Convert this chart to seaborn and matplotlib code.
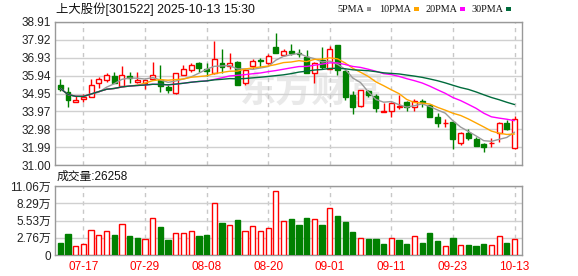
import numpy as np
import pandas as pd
import matplotlib
matplotlib.use("Agg")
import matplotlib.pyplot as plt
import seaborn as sns

# ---------------- data ----------------
opens = [35.42, 35.05, 34.46, 34.63, 34.74, 35.51, 35.71, 35.91, 35.38, 35.91,
         35.60, 35.55, 35.77, 35.69, 35.33, 35.00, 36.00, 36.24, 36.65, 36.28,
         36.10, 36.66, 36.46, 36.68, 35.51, 36.46, 36.80, 36.65, 37.53, 37.07,
         37.29, 37.16, 36.98, 36.11, 36.79, 36.33, 37.62, 36.21, 34.85, 34.26,
         35.09, 34.81, 33.95, 34.01, 34.23, 34.50, 34.19, 34.54, 34.32, 33.64,
         33.31, 33.36, 32.21, 32.76, 32.45, 32.17, 32.21, 32.76, 33.31, 31.93]
highs = [35.73, 35.33, 34.81, 34.92, 35.78, 35.84, 36.11, 36.13, 36.46, 36.13,
         36.13, 35.71, 36.68, 36.52, 35.42, 36.08, 36.52, 36.65, 36.70, 36.61,
         37.84, 37.40, 37.16, 36.72, 36.28, 36.88, 36.92, 37.12, 38.30, 37.38,
         37.67, 37.38, 37.34, 36.70, 37.49, 37.58, 37.65, 36.24, 35.11, 35.16,
         35.14, 34.92, 34.41, 34.50, 34.87, 34.56, 34.63, 34.63, 34.37, 33.86,
         33.53, 33.40, 32.85, 32.98, 32.54, 32.25, 32.48, 33.40, 33.49, 33.71]
lows = [35.11, 34.23, 34.46, 34.46, 34.74, 35.27, 35.60, 35.51, 35.38, 35.55,
        35.51, 35.23, 35.71, 35.05, 35.00, 34.92, 36.00, 36.15, 36.15, 35.91,
        36.02, 36.10, 36.28, 35.45, 35.42, 36.28, 36.39, 36.57, 37.16, 37.01,
        37.07, 36.98, 36.06, 35.55, 36.28, 36.33, 35.97, 34.59, 33.82, 34.19,
        34.74, 33.95, 33.91, 33.68, 34.08, 34.01, 34.01, 34.19, 33.64, 33.13,
        33.09, 31.88, 32.12, 32.39, 32.06, 31.71, 32.03, 32.30, 32.94, 31.88]
closes = [35.23, 34.57, 34.60, 34.78, 35.45, 35.73, 35.95, 35.55, 36.00, 35.80,
          35.69, 35.71, 35.95, 35.36, 35.14, 36.06, 36.28, 36.52, 36.37, 36.21,
          36.88, 36.39, 36.61, 35.45, 36.24, 36.74, 36.76, 37.01, 37.21, 37.29,
          37.20, 37.12, 36.10, 36.66, 36.39, 37.43, 36.24, 34.74, 34.23, 35.14,
          34.89, 34.13, 33.99, 34.41, 34.26, 34.23, 34.54, 34.48, 33.68, 33.31,
          33.35, 32.43, 32.76, 32.48, 32.08, 32.03, 32.25, 33.31, 33.00, 33.53]
volumes_wan = [1.98, 3.37, 1.39, 1.76, 4.00, 3.15, 3.79, 3.20, 4.91, 3.04,
               2.72, 2.51, 5.87, 4.49, 2.40, 3.47, 3.47, 3.79, 3.04, 3.20,
               8.28, 5.13, 4.75, 5.61, 3.79, 4.59, 3.79, 4.33, 10.25, 5.39,
               5.77, 4.81, 5.93, 5.71, 4.81, 7.48, 6.25, 5.29, 3.68, 2.67,
               2.56, 2.56, 1.76, 2.67, 2.40, 1.76, 2.99, 1.98, 3.58, 2.24,
               1.39, 2.72, 1.55, 1.60, 1.44, 1.76, 1.55, 2.99, 1.98, 2.6258]
date_ticks = ["07-17", "07-29", "08-08", "08-20", "09-01", "09-11", "09-23", "10-13"]
price_ticks = [31.00, 31.99, 32.98, 33.97, 34.95, 35.94, 36.93, 37.92, 38.91]
vol_ticks = [0, 27650, 55300, 82950, 110600]
vol_tick_labels = ["0", "2.76万", "5.53万", "8.29万", "11.06万"]
ma_windows = [5, 10, 20, 30]
ma_names = ["5PMA", "10PMA", "20PMA", "30PMA"]
title = "上大股份[301522] 2025-10-13 15:30"
last_volume = 26258

# ---------------- style ----------------
sns.set_theme(style="white")
plt.rcParams["font.family"] = ["Liberation Sans", "Noto Sans CJK SC", "DejaVu Sans"]

RED = "#ff0000"
GREEN = "#008000"
ma_colors = ["#9a9a9a", "#ffa500", "#ff00ff", "#006b3c"]

df = pd.DataFrame({"open": opens, "high": highs, "low": lows,
                   "close": closes, "vol": np.array(volumes_wan) * 10000})
df["idx"] = np.arange(len(df))
prev = df["close"].shift(1)
cand_up = (df["close"] > df["open"]) | ((df["close"] == df["open"]) & (df["close"] >= prev.fillna(df["open"])))
vol_up = df["close"] >= prev.fillna(df["open"])

W, H = 578, 276
fig = plt.figure(figsize=(W / 100, H / 100), dpi=100)
ax = fig.add_axes([55 / W, 1 - 165.3 / H, 467 / W, (165.3 - 21.7) / H])
axv = fig.add_axes([55 / W, 1 - 255 / H, 467 / W, 69 / H])

xlim = (-0.69, 59.97)
tick_pos = [3 + 8 * k for k in range(len(date_ticks))]

# watermark
ax.text(0.55, 0.52, "东方财富", transform=ax.transAxes, ha="center", va="center",
        fontsize=26, fontweight="bold", color="#e9e9e9", zorder=0.3,
        family=["Noto Sans CJK SC"])

# candles
bw = 0.64
for i, r in df.iterrows():
    col = RED if cand_up[i] else GREEN
    face = "white" if cand_up[i] else GREEN
    ax.vlines(r["idx"], r["low"], r["high"], color=col, lw=1, zorder=3)
    lo, hi = min(r["open"], r["close"]), max(r["open"], r["close"])
    ax.bar(r["idx"], max(hi - lo, 0.001), bottom=lo, width=bw, color=face,
           edgecolor=col, linewidth=1, zorder=4)

# moving averages
for w, c in zip(ma_windows, ma_colors):
    ma = df["close"].rolling(w, min_periods=1).mean()
    sns.lineplot(x=df["idx"], y=ma, ax=ax, color=c, linewidth=1, legend=False, zorder=5)

ax.set_xlim(*xlim)
ax.set_ylim(price_ticks[0], price_ticks[-1])
ax.set_yticks(price_ticks)
ax.set_yticklabels([f"{v:.2f}" for v in price_ticks])
ax.set_xticks(tick_pos)
ax.tick_params(axis="x", labelbottom=False, length=0)
ax.tick_params(axis="y", length=0, pad=3, labelsize=8.5, labelcolor="#222222")
ax.set_xlabel("")
ax.set_ylabel("")
ax.set_axisbelow(True)
ax.yaxis.grid(True, color="#d0d0d0", lw=1, ls="-")
ax.xaxis.grid(True, color="#c8c8c8", lw=1, ls=(0, (3, 3)))

# volume bars
for i, r in df.iterrows():
    col = RED if vol_up[i] else GREEN
    face = "white" if vol_up[i] else GREEN
    axv.bar(r["idx"], r["vol"], width=0.68, color=face, edgecolor=col, linewidth=1, zorder=3)

axv.set_xlim(*xlim)
axv.set_ylim(vol_ticks[0], vol_ticks[-1])
axv.set_yticks(vol_ticks)
axv.set_yticklabels(vol_tick_labels)
axv.set_xticks(tick_pos)
axv.set_xticklabels(date_ticks)
axv.tick_params(axis="x", length=0, pad=4, labelsize=8.5, labelcolor=RED)
axv.tick_params(axis="y", length=0, pad=3, labelsize=8.5, labelcolor="#222222")
axv.set_axisbelow(True)
axv.yaxis.grid(True, color="#d0d0d0", lw=1, ls="-")
axv.xaxis.grid(True, color="#c8c8c8", lw=1, ls=(0, (3, 3)))
axv.set_xlabel("")
axv.set_ylabel("")

for a in (ax, axv):
    for s in a.spines.values():
        s.set_color("#999999")
        s.set_linewidth(1)

# texts
fig.text(56 / W, 1 - 9 / H, title, ha="left", va="center", fontsize=8.9, color="#111111")
fig.text(57 / W, 1 - 176.5 / H, f"成交量:{last_volume}", ha="left", va="center",
         fontsize=8.5, color="#111111")

# legend row: text followed by a small coloured block
renderer = fig.canvas.get_renderer()
leg_x = [337, 379, 425, 471]
for name, c, lx in zip(ma_names, ma_colors, leg_x):
    t = fig.text(lx / W, 1 - 9 / H, name, ha="left", va="center", fontsize=7.3,
                 color="#111111", family=["Liberation Serif"])
    bb = t.get_window_extent(renderer=renderer)
    fig.add_artist(plt.Rectangle(((bb.x1 + 3) / W, 1 - 10.5 / H), 4.5 / W, 3 / H,
                                 transform=fig.transFigure, color=c, lw=0))

fig.savefig("out.png", dpi=100)
